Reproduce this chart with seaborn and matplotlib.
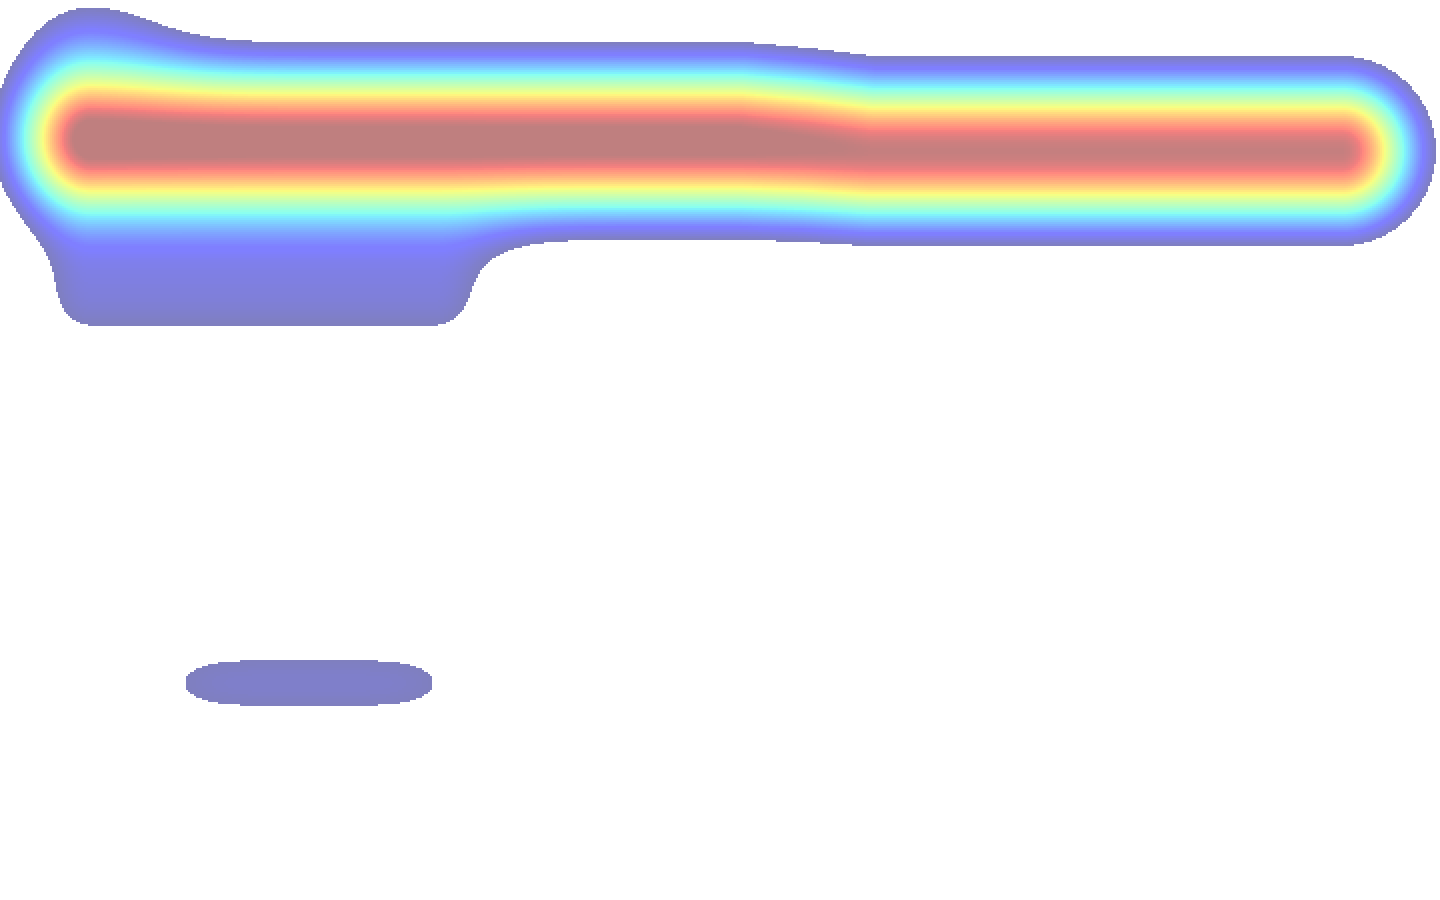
import numpy as np
import pandas as pd
import matplotlib
matplotlib.use("Agg")
import matplotlib.pyplot as plt
import seaborn as sns

# ---- data (pixel positions on the 1440x900 canvas, heat intensity, spread) ----
# main trail: a polyline of heat
band_x = [92, 740, 805, 870, 1341]
band_y = [141, 141, 145, 151, 151]
band_w = [1.03, 1.03, 1.01, 0.99, 0.99]
band_r = [55.5, 55.5, 54.8, 54.0, 54.0]

# faint patch under the left part of the trail
patch_x = [90, 436]
patch_y = [300, 300]
patch_w = [0.229, 0.229]

# faint hot spots above the left end
top_x = [60, 130]
top_y = [30, 22]
top_w = [0.11, 0.09]

# faint isolated cluster lower left
spot_x = [146, 211, 276, 342, 407, 472]
spot_y = [683, 683, 683, 683, 683, 683]
spot_w = [0.1078, 0.1078, 0.1078, 0.1078, 0.1078, 0.1078]

SPREAD = 55.5
LOW, HIGH = 0.211, 1.0
W, H, CELL = 1440, 900, 2

xs = np.arange(W // CELL) * CELL + CELL / 2
ys = np.arange(H // CELL) * CELL + CELL / 2
gx, gy = np.meshgrid(xs, ys)


def trail_heat(px, py, pw, pr):
    """Heat of one trail: Gaussian fall-off with the distance to the polyline."""
    out = np.zeros_like(gx)
    if len(px) == 1:
        d2 = (gx - px[0]) ** 2 + (gy - py[0]) ** 2
        return pw[0] * np.exp(-d2 / (2 * pr[0] ** 2))
    for i in range(len(px) - 1):
        vx, vy = px[i + 1] - px[i], py[i + 1] - py[i]
        t = np.clip(((gx - px[i]) * vx + (gy - py[i]) * vy) / (vx * vx + vy * vy), 0, 1)
        d2 = (gx - px[i] - t * vx) ** 2 + (gy - py[i] - t * vy) ** 2
        w = pw[i] + (pw[i + 1] - pw[i]) * t
        r = pr[i] + (pr[i + 1] - pr[i]) * t
        out = np.maximum(out, w * np.exp(-d2 / (2 * r ** 2)))
    return out


trails = [pd.DataFrame({"x": band_x, "y": band_y, "w": band_w, "r": band_r}),
          pd.DataFrame({"x": patch_x, "y": patch_y, "w": patch_w, "r": SPREAD})]
for px, py, pw in zip(top_x + spot_x, top_y + spot_y, top_w + spot_w):
    trails.append(pd.DataFrame({"x": [px], "y": [py], "w": [pw], "r": [SPREAD]}))

heat = np.zeros_like(gx)
for tr in trails:
    heat += trail_heat(tr["x"].to_numpy(float), tr["y"].to_numpy(float),
                       tr["w"].to_numpy(float), tr["r"].to_numpy(float))

sns.set_theme(style="white")
fig = plt.figure(figsize=(14.4, 9), dpi=100)
fig.patch.set_facecolor("white")
ax = fig.add_axes([0, 0, 1, 1])
sns.heatmap(heat, mask=heat < LOW, cmap="jet", vmin=LOW, vmax=HIGH, alpha=0.5,
            cbar=False, xticklabels=False, yticklabels=False, ax=ax)
ax.set_axis_off()
fig.savefig("out.png", dpi=100, facecolor="white")
